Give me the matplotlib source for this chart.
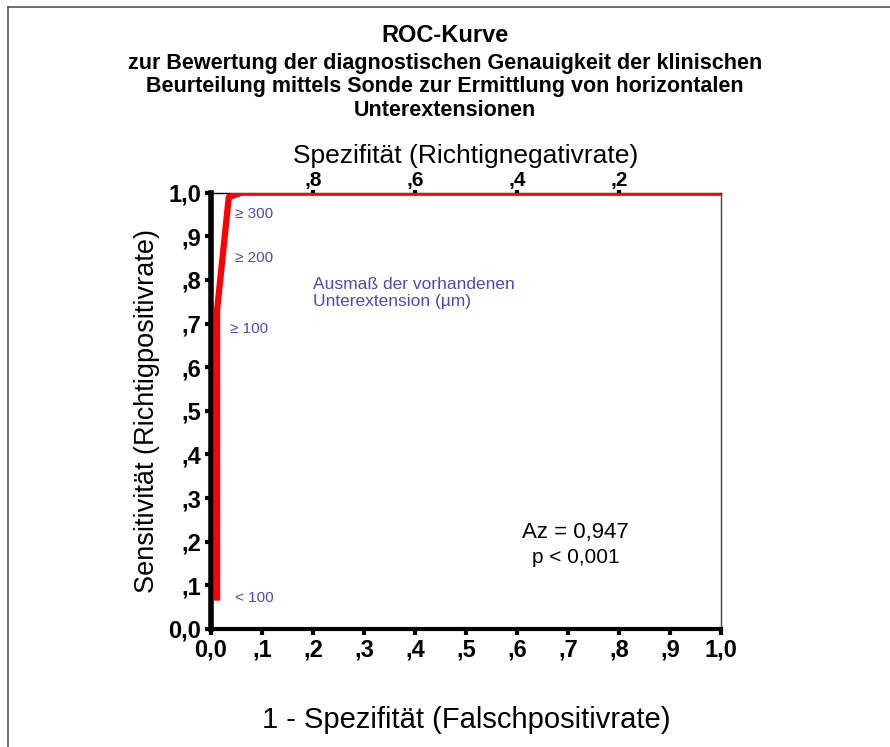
import numpy as np
import matplotlib
matplotlib.use('Agg')
import matplotlib.pyplot as plt
from matplotlib.lines import Line2D

plt.rcParams['font.family'] = ['Liberation Sans', 'DejaVu Sans']

# ROC-Punkte (1 - Spezifität, Sensitivität)
fpr = [0.012, 0.012, 0.035, 0.06, 1.0]
tpr = [0.065, 0.73, 0.99, 1.0, 1.0]

x_ticks = [0.0, 0.1, 0.2, 0.3, 0.4, 0.5, 0.6, 0.7, 0.8, 0.9, 1.0]
x_labels = ['0,0', ',1', ',2', ',3', ',4', ',5', ',6', ',7', ',8', ',9', '1,0']
y_labels = ['0,0', ',1', ',2', ',3', ',4', ',5', ',6', ',7', ',8', ',9', '1,0']
top_ticks = [0.2, 0.4, 0.6, 0.8]
top_labels = [',8', ',6', ',4', ',2']

# Schwellenwerte der Unterextension und ihre Position
cut_labels = ['≥ 300', '≥ 200', '≥ 100', '< 100']
cut_x = [0.047, 0.047, 0.037, 0.047]
cut_y = [0.952, 0.85, 0.688, 0.072]

blue = '#4b4bb4'

fig = plt.figure(figsize=(8.9, 7.47), dpi=100)
ax = fig.add_axes([0.237, 0.158, 0.573, 0.584])

ax.plot(fpr, tpr, color='#ff0000', lw=4.5, solid_capstyle='butt', zorder=3)

ax.set_xlim(0, 1.0)
ax.set_ylim(0, 1.0)
ax.set_xticks(x_ticks)
ax.set_xticklabels(x_labels, fontsize=17, fontweight='bold')
ax.set_yticks(x_ticks)
ax.set_yticklabels(y_labels, fontsize=17, fontweight='bold')
ax.tick_params(axis='both', length=4, width=3, pad=3)

ax.spines['left'].set_linewidth(4)
ax.spines['bottom'].set_linewidth(3)
ax.spines['right'].set_linewidth(1)
ax.spines['right'].set_color('#444444')
ax.spines['top'].set_linewidth(1)

ax.set_xlabel('1 - Spezifität (Falschpositivrate)', fontsize=21, labelpad=32)
ax.set_ylabel('Sensitivität (Richtigpositivrate)', fontsize=19.5, labelpad=6)

top = ax.secondary_xaxis('top')
top.set_xticks(top_ticks)
top.set_xticklabels(top_labels, fontsize=15, fontweight='bold')
top.tick_params(length=2, width=3, pad=0)
top.spines['top'].set_visible(False)
top.set_xlabel('Spezifität (Richtignegativrate)', fontsize=19, labelpad=6)

for lab, xx, yy in zip(cut_labels, cut_x, cut_y):
    ax.text(xx, yy, lab, color=blue, fontsize=11, ha='left', va='center')

ax.text(0.2, 0.77, 'Ausmaß der vorhandenen\nUnterextension (µm)', color=blue,
        fontsize=12.5, ha='left', va='center', linespacing=1.12)

ax.text(0.61, 0.222, 'Az = 0,947', fontsize=16, ha='left', va='center')
ax.text(0.63, 0.163, 'p < 0,001', fontsize=15, ha='left', va='center')

fig.text(0.5, 0.952, 'ROC-Kurve', fontsize=17, fontweight='bold', ha='center', va='center')
fig.text(0.5, 0.884, 'zur Bewertung der diagnostischen Genauigkeit der klinischen\n'
         'Beurteilung mittels Sonde zur Ermittlung von horizontalen\n'
         'Unterextensionen', fontsize=15.5, fontweight='bold', ha='center', va='center',
         linespacing=1.15)

# Rahmen oben und links
fig.add_artist(Line2D([8 / 890, 1.0], [1 - 7 / 747, 1 - 7 / 747], color='#555555', lw=1.2))
fig.add_artist(Line2D([8 / 890, 8 / 890], [0, 1 - 7 / 747], color='#555555', lw=1.2))

fig.savefig('out.png', dpi=100)
